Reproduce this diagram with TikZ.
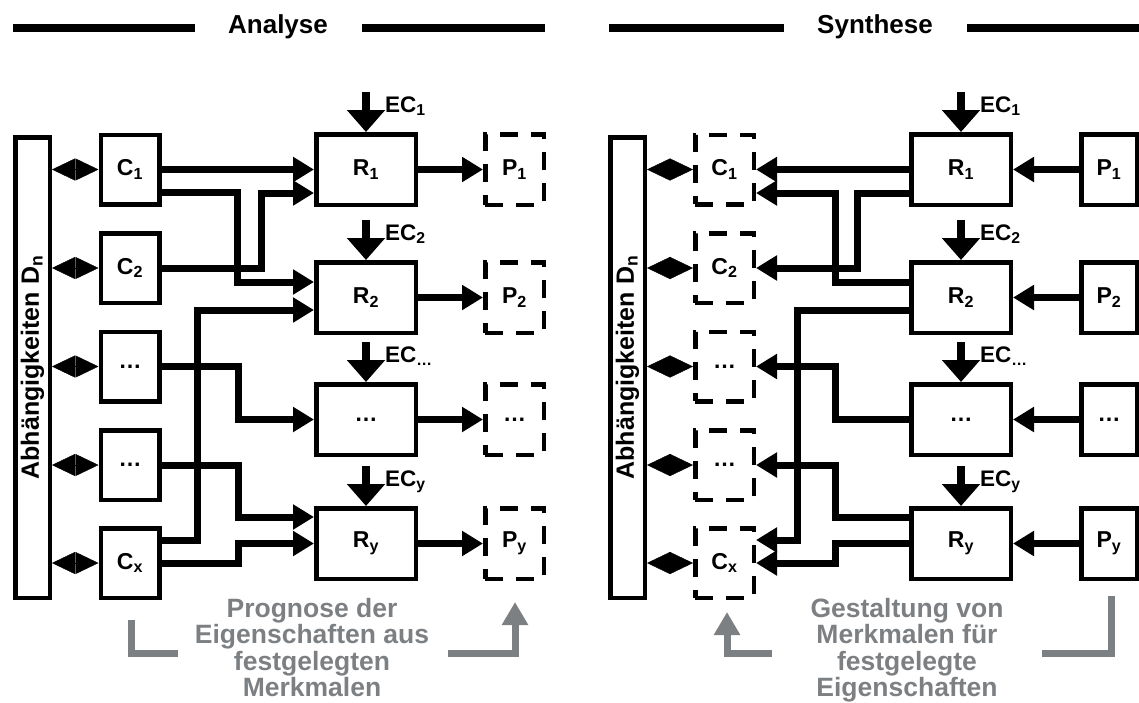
\documentclass[tikz,border=0pt]{standalone}
\usepackage{fontspec}
\setmainfont{Liberation Sans}
\usetikzlibrary{arrows.meta,calc}

\newcommand\fnTitle{\bfseries\fontsize{26}{30}\selectfont}
\newcommand\fnBox{\bfseries\fontsize{23}{27}\selectfont}
\newcommand\fnEC{\bfseries\fontsize{22.5}{26}\selectfont}
\newcommand\fnBar{\bfseries\fontsize{25}{29}\selectfont}
\newcommand\fnGray{\bfseries\fontsize{26.5}{26.5}\selectfont}
\definecolor{notegray}{RGB}{125,128,131}

\begin{document}
\begin{tikzpicture}[x=1pt,y=-1pt,line join=miter,
  blk/.style={draw,line width=4.5pt,inner sep=0pt,font=\fnBox},
  cbox/.style={blk,minimum width=58.5pt,minimum height=69.5pt},
  rbox/.style={blk,minimum width=99.5pt,minimum height=70.5pt},
  pbox/.style={blk,minimum width=58.5pt,minimum height=70.5pt},
  open/.style={dash pattern=on 18pt off 13pt},
  barbox/.style={draw,line width=4.5pt,minimum width=34.5pt,minimum height=460.5pt},
  conn/.style={line width=7pt,-{Triangle[length=21pt,width=24pt]}},
  ecarrow/.style={line width=8.5pt,-{Triangle[length=22pt,width=37pt]}},
  eclabel/.style={font=\fnEC,inner sep=0pt,anchor=base west},
  dia/.style={line width=0.4pt,{Triangle[length=23pt,width=22pt]}-{Triangle[length=23pt,width=22pt]}},
  rule/.style={line width=7.5pt},
  headline/.style={font=\fnTitle,inner sep=0pt,anchor=base},
  note/.style={font=\fnGray,text=notegray,align=center,inner sep=0pt,anchor=north},
  noteline/.style={line width=7pt,draw=notegray},
  notearrow/.style={noteline,-{Triangle[length=23pt,width=25pt]}}]

\useasboundingbox (0,0) rectangle (1139,702);

% ---------------- headings ----------------
\draw[rule] (13,28) -- (195,28);
\node[headline] (tA) at (278,33) {Analyse};
\draw[rule] (362,28) -- (545,28);
\draw[rule] (609,28) -- (784,28);
\node[headline] (tS) at (875,33) {Synthese};
\draw[rule] (967,28) -- (1139,28);

% ================= Analyse =================
\node[barbox] (L-D) at (32.5,367.5) {};
\node[font=\fnBar,rotate=90,inner sep=0pt] (L-Dt) at (L-D.center) {Abhängigkeiten D\textsubscript{n}};

\node[cbox] (L-C1) at (130,169.5) {C\textsubscript{1}};
\node[cbox] (L-C2) at (130,268) {C\textsubscript{2}};
\node[cbox] (L-C3) at (130,366.5) {…};
\node[cbox] (L-C4) at (130,465) {…};
\node[cbox] (L-C5) at (130,563) {C\textsubscript{x}};

\node[rbox] (L-R1) at (366,169.5) {R\textsubscript{1}};
\node[rbox] (L-R2) at (366,297.5) {R\textsubscript{2}};
\node[rbox] (L-R3) at (366,419.5) {…};
\node[rbox] (L-R4) at (366,543.5) {R\textsubscript{y}};

\node[pbox,open] (L-P1) at (514.5,169.5) {P\textsubscript{1}};
\node[pbox,open] (L-P2) at (514.5,297.5) {P\textsubscript{2}};
\node[pbox,open] (L-P3) at (514.5,419.5) {…};
\node[pbox,open] (L-P4) at (514.5,543.5) {P\textsubscript{y}};

\foreach \i in {1,...,5}{\draw[dia] (L-D.east|-L-C\i) -- (L-C\i);}

\foreach \i/\s in {1/1,2/2,3/…,4/y}{
  \draw[ecarrow] ($(L-R\i.north)+(0,-40)$) -- (L-R\i.north);
  \node[eclabel] at ($(L-R\i.north)+(19,-20)$) {EC\textsubscript{\s}};
  \draw[conn] (L-R\i) -- (L-P\i);
}

\draw[conn] (L-C1) -- (L-R1);
\draw[conn] (L-C1.east|-0,192) -| (237,282) -- (L-R2.west|-0,282);
\draw[conn] (L-C2) -| (261,193) -- (L-R1.west|-0,193);
\draw[conn] (L-C3) -| (238,419.5) -- (L-R3);
\draw[conn] (L-C4) -| (238,517) -- (L-R4.west|-0,517);
\draw[conn] (L-C5.east|-0,540) -| (197,310) -- (L-R2.west|-0,310);
\draw[conn] (L-C5) -| (238,543.5) -- (L-R4);

\draw[noteline] (131,620) |- (178,653);
\draw[notearrow] (448,653) -| (515,602);
\node[note] (L-note) at (312,598) {Prognose der\\Eigenschaften aus\\festgelegten\\Merkmalen};

% ================= Synthese =================
\node[barbox] (S-D) at (627.5,367.5) {};
\node[font=\fnBar,rotate=90,inner sep=0pt] (S-Dt) at (S-D.center) {Abhängigkeiten D\textsubscript{n}};

\node[cbox,open] (S-C1) at (724.5,169.5) {C\textsubscript{1}};
\node[cbox,open] (S-C2) at (724.5,268) {C\textsubscript{2}};
\node[cbox,open] (S-C3) at (724.5,366.5) {…};
\node[cbox,open] (S-C4) at (724.5,465) {…};
\node[cbox,open] (S-C5) at (724.5,563) {C\textsubscript{x}};

\node[rbox] (S-R1) at (961,169.5) {R\textsubscript{1}};
\node[rbox] (S-R2) at (961,297.5) {R\textsubscript{2}};
\node[rbox] (S-R3) at (961,419.5) {…};
\node[rbox] (S-R4) at (961,543.5) {R\textsubscript{y}};

\node[pbox,minimum width=55.5pt] (S-P1) at (1109,169.5) {P\textsubscript{1}};
\node[pbox,minimum width=55.5pt] (S-P2) at (1109,297.5) {P\textsubscript{2}};
\node[pbox,minimum width=55.5pt] (S-P3) at (1109,419.5) {…};
\node[pbox,minimum width=55.5pt] (S-P4) at (1109,543.5) {P\textsubscript{y}};

\foreach \i in {1,...,5}{\draw[dia] (S-D.east|-S-C\i) -- (S-C\i);}

\foreach \i/\s in {1/1,2/2,3/…,4/y}{
  \draw[ecarrow] ($(S-R\i.north)+(0,-40)$) -- (S-R\i.north);
  \node[eclabel] at ($(S-R\i.north)+(19,-20)$) {EC\textsubscript{\s}};
  \draw[conn] (S-P\i) -- (S-R\i);
}

\draw[conn] (S-R1) -- (S-C1);
\draw[conn] (S-R1.west|-0,193) -| (857,268) -- (S-C2);
\draw[conn] (S-R2.west|-0,282) -| (835,193) -- (S-C1.east|-0,193);
\draw[conn] (S-R3) -| (835,366.5) -- (S-C3);
\draw[conn] (S-R4.west|-0,517) -| (835,465) -- (S-C4);
\draw[conn] (S-R2.west|-0,310) -| (797,540) -- (S-C5.east|-0,540);
\draw[conn] (S-R4) -| (835,563) -- (S-C5);

\draw[noteline] (1111,596) |- (1042,653);
\draw[notearrow] (772,653) -| (727,612);
\node[note] (S-note) at (907,598) {Gestaltung von\\Merkmalen für\\festgelegte\\Eigenschaften};

\end{tikzpicture}
\end{document}
